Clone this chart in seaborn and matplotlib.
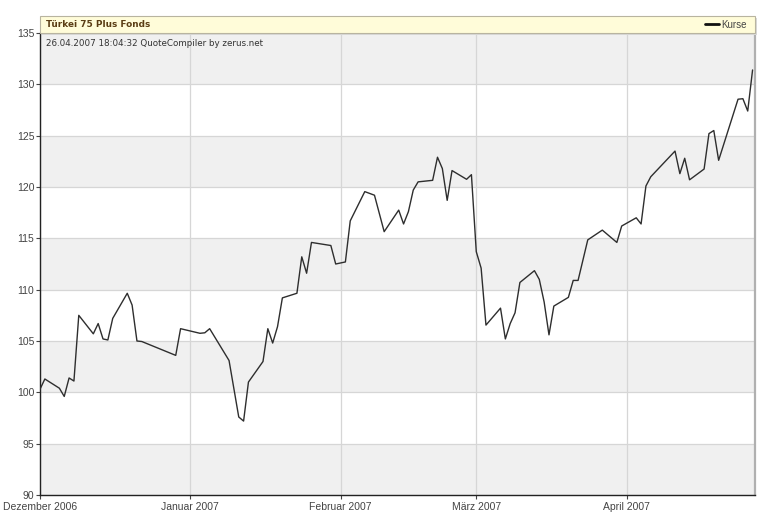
import matplotlib
matplotlib.use("Agg")
import matplotlib.pyplot as plt
from matplotlib.patches import Rectangle
from matplotlib.lines import Line2D
import seaborn as sns
import pandas as pd

# ---- data ----
dates = [
    "2006-12-01", "2006-12-02", "2006-12-05", "2006-12-06", "2006-12-07", "2006-12-08",
    "2006-12-09", "2006-12-12", "2006-12-13", "2006-12-14", "2006-12-15", "2006-12-16",
    "2006-12-19", "2006-12-20", "2006-12-21", "2006-12-22", "2006-12-29", "2006-12-30",
    "2007-01-03", "2007-01-04", "2007-01-05", "2007-01-09", "2007-01-11", "2007-01-12",
    "2007-01-13", "2007-01-16", "2007-01-17", "2007-01-18", "2007-01-19", "2007-01-20",
    "2007-01-23", "2007-01-24", "2007-01-25", "2007-01-26", "2007-01-30", "2007-01-31",
    "2007-02-02", "2007-02-03", "2007-02-06", "2007-02-08", "2007-02-10", "2007-02-13",
    "2007-02-14", "2007-02-15", "2007-02-16", "2007-02-17", "2007-02-20", "2007-02-21",
    "2007-02-22", "2007-02-23", "2007-02-24", "2007-02-27", "2007-02-28", "2007-03-01",
    "2007-03-02", "2007-03-03", "2007-03-06", "2007-03-07", "2007-03-08", "2007-03-09",
    "2007-03-10", "2007-03-13", "2007-03-14", "2007-03-15", "2007-03-16", "2007-03-17",
    "2007-03-20", "2007-03-21", "2007-03-22", "2007-03-24", "2007-03-27", "2007-03-30",
    "2007-03-31", "2007-04-03", "2007-04-04", "2007-04-05", "2007-04-06", "2007-04-11",
    "2007-04-12", "2007-04-13", "2007-04-14", "2007-04-17", "2007-04-18", "2007-04-19",
    "2007-04-20", "2007-04-24", "2007-04-25", "2007-04-26", "2007-04-27",
]
kurse = [
    100.3, 101.3, 100.4, 99.6, 101.4, 101.1,
    107.5, 105.7, 106.7, 105.2, 105.1, 107.2,
    109.65, 108.5, 105.0, 104.95, 103.6, 106.2,
    105.75, 105.8, 106.2, 103.1, 97.6, 97.2,
    101.0, 103.0, 106.2, 104.8, 106.4, 109.2,
    109.65, 113.2, 111.6, 114.6, 114.3, 112.5,
    112.7, 116.7, 119.55, 119.2, 115.65, 117.75,
    116.4, 117.6, 119.7, 120.5, 120.65, 122.9,
    121.8, 118.7, 121.6, 120.75, 121.2, 113.7,
    112.1, 106.55, 108.2, 105.2, 106.7, 107.75,
    110.7, 111.85, 111.0, 108.8, 105.6, 108.4,
    109.25, 110.9, 110.9, 114.85, 115.8, 114.6,
    116.2, 117.0, 116.4, 120.1, 121.0, 123.5,
    121.3, 122.8, 120.7, 121.75, 125.2, 125.5,
    122.6, 128.55, 128.6, 127.4, 131.4,
]
month_ticks = ["2006-12-01", "2007-01-01", "2007-02-01", "2007-03-01", "2007-04-01"]
month_labels = ["Dezember 2006", "Januar 2007", "Februar 2007", "März 2007", "April 2007"]
y_ticks = [90, 95, 100, 105, 110, 115, 120, 125, 130, 135]
title = "Türkei 75 Plus Fonds"
subtitle = "26.04.2007 18:04:32 QuoteCompiler by zerus.net"
legend_label = "Kurse"

sns.set_theme(style="white")
plt.rcParams["font.family"] = ["Liberation Sans", "DejaVu Sans"]

W, H = 770, 525
fig = plt.figure(figsize=(W / 100, H / 100), dpi=100)
fig.patch.set_facecolor("white")
ax = fig.add_axes([40 / W, 30 / H, 715 / W, 462 / H])
ax.set_facecolor("white")

df = pd.DataFrame({"Datum": pd.to_datetime(dates), "Kurse": kurse})

# alternating bands
for lo, hi in zip(y_ticks[:-1], y_ticks[1:]):
    if lo % 10 == 0:
        ax.axhspan(lo, hi, facecolor="#f0f0f0", lw=0, zorder=0)

sns.lineplot(data=df, x="Datum", y="Kurse", ax=ax, color="#2e2e2e",
             linewidth=1.0, legend=False, zorder=3)

ax.set_ylim(y_ticks[0], y_ticks[-1])
ax.set_xlim(pd.Timestamp("2006-12-01"), pd.Timestamp("2007-04-27 12:00"))
ax.set_yticks(y_ticks)
ax.set_xticks(pd.to_datetime(month_ticks))
ax.set_xticklabels(month_labels)
ax.set_xlabel("")
ax.set_ylabel("")
ax.grid(True, color="#d6d6d6", lw=0.9, zorder=1)
ax.set_axisbelow(True)
ax.tick_params(axis="both", direction="out", length=3, width=0.8,
               color="#444444", labelcolor="#444444", labelsize=7.5, pad=1,
               left=True, bottom=True)
ax.tick_params(axis="x", pad=2)

for side in ["left", "bottom"]:
    ax.spines[side].set_visible(True)
    ax.spines[side].set_color("#222222")
    ax.spines[side].set_linewidth(1.0)
ax.spines["right"].set_visible(True)
ax.spines["right"].set_color("#b0b0b0")
ax.spines["right"].set_linewidth(1.6)
ax.spines["top"].set_visible(False)

# title box
x0, x1 = 40 / W, 755 / W
yb, yt = (H - 33) / H, (H - 16) / H
fig.patches.append(Rectangle((x0 + 2 / W, yb - 2 / H), x1 - x0, yt - yb,
                             transform=fig.transFigure, facecolor="#d8d8d8",
                             edgecolor="none", zorder=1))
fig.patches.append(Rectangle((x0, yb), x1 - x0, yt - yb, transform=fig.transFigure,
                             facecolor="#fffcd9", edgecolor="#b8b4a0", lw=0.8, zorder=2))
fig.text(46 / W, (H - 24.5) / H, title, fontsize=6.4, fontweight="bold",
         color="#5a3d14", va="center", ha="left", family=["DejaVu Sans"], zorder=3)
fig.lines.append(Line2D([705 / W, 719 / W], [(H - 24) / H] * 2, transform=fig.transFigure,
                        color="#111111", lw=2, zorder=3))
fig.text(721 / W, (H - 24.5) / H, legend_label, fontsize=7, color="#444444",
         va="center", ha="left", zorder=3)

fig.text(46 / W, (H - 43) / H, subtitle, fontsize=6.3, color="#333333",
         va="center", ha="left", family=["DejaVu Sans"], zorder=3)

fig.savefig("out.png", dpi=100)
